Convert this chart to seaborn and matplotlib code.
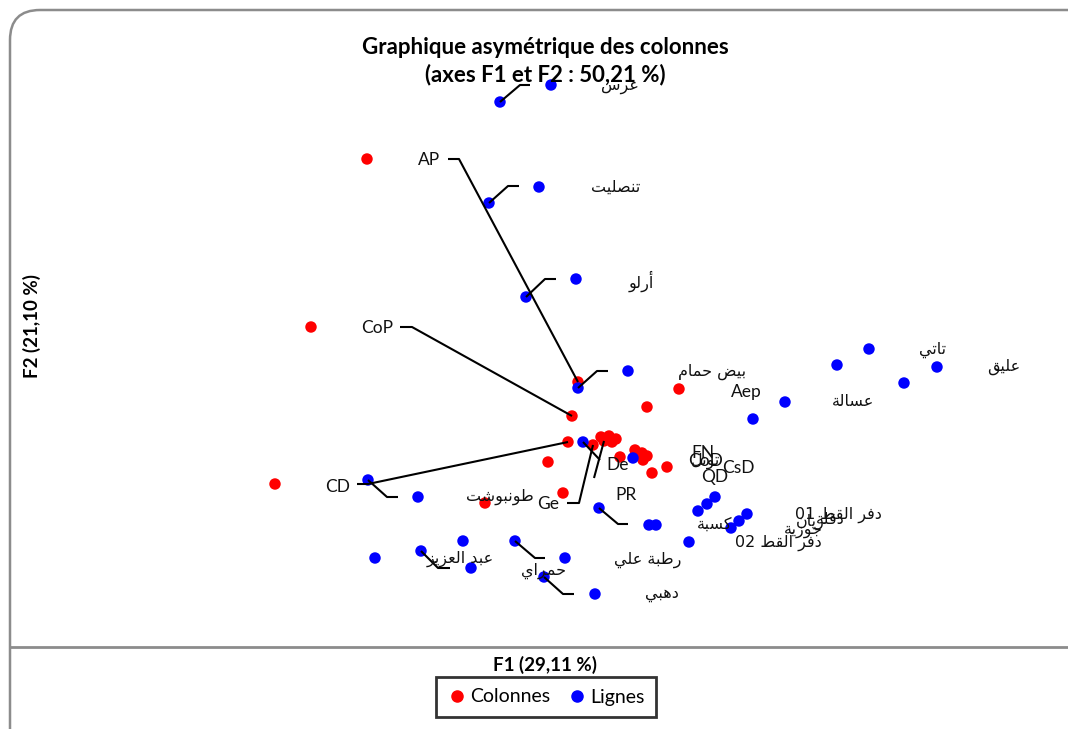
import numpy as np
import pandas as pd
import matplotlib
matplotlib.use("Agg")
import matplotlib.pyplot as plt
import seaborn as sns
from matplotlib.patches import FancyBboxPatch
from matplotlib.lines import Line2D

# ---------------- data ----------------
series_names = ["Colonnes", "Lignes"]

col_f1 = [-0.932, -1.156, -0.088, 0.316, 0.188, -0.112, -0.128, 0.004, 0.036, 0.064,
          0.016, 0.048, -0.028, 0.080, 0.140, 0.168, 0.188, 0.172, 0.148, 0.208,
          0.268, -0.208, -0.148, -1.300, -0.460]
col_f2 = [1.144, 0.472, 0.252, 0.224, 0.152, 0.116, 0.012, 0.032, 0.036, 0.024,
          0.016, 0.012, 0.000, -0.048, -0.020, -0.032, -0.044, -0.060, -0.040, -0.112,
          -0.088, -0.068, -0.192, -0.156, -0.232]

row_f1 = [-0.196, -0.400, -0.244, -0.444, -0.096, -0.296, 0.112, -0.088, 1.076, 0.948,
          1.348, 1.216, 0.740, 0.612, -0.068, 0.132, -0.928, -0.728, -0.004, 0.196,
          0.224, 0.392, 0.428, 0.460, 0.588, 0.556, 0.524, 0.356, -0.548, -0.716,
          -0.900, -0.516, -0.340, -0.140, -0.224, -0.020]
row_f2 = [1.440, 1.372, 1.032, 0.968, 0.664, 0.592, 0.296, 0.228, 0.384, 0.320,
          0.312, 0.248, 0.172, 0.104, 0.012, -0.052, -0.140, -0.208, -0.252, -0.320,
          -0.320, -0.264, -0.236, -0.208, -0.276, -0.304, -0.332, -0.388, -0.384, -0.424,
          -0.452, -0.492, -0.384, -0.452, -0.528, -0.596]

col_labels = ["AP", "CoP", "CD", "Ge", "De", "PR", "Aep", "FN", "CoD", "CsD", "QD"]
row_labels = ["عرس", "تنصليت", "أرلو", "بيض حمام", "عسالة", "تاتي", "عليق",
              "طونبوشت", "عبد العزيز", "حمراي", "رطبة علي", "دهبي", "كسبة",
              "دفر القط 01", "دقلة", "زيان", "جوزية", "دفر القط 02", "تونل"]

title_text = "Graphique asymétrique des colonnes\n(axes F1 et F2 : 50,21 %)"
x_title = "F1 (29,11 %)"
y_title = "F2 (21,10 %)"

# ---------------- layout (label placement, leader lines) ----------------
col_label_pos = [(-0.684, 1.140), (-0.892, 0.468), (-1.048, -0.168), (-0.208, -0.236),
                 (0.072, -0.080), (0.104, -0.200), (0.584, 0.212), (0.412, -0.032),
                 (0.424, -0.064), (0.552, -0.092), (0.460, -0.128)]
row_label_pos = [(0.080, 1.436), (0.064, 1.032), (0.164, 0.656), (0.448, 0.292),
                 (1.012, 0.172), (1.332, 0.380), (1.616, 0.312), (-0.400, -0.208),
                 (-0.560, -0.456), (-0.224, -0.504), (0.192, -0.460), (0.248, -0.600),
                 (0.460, -0.316), (0.952, -0.280), (0.920, -0.296), (0.840, -0.308),
                 (0.812, -0.340), (0.712, -0.392), (0.424, -0.064)]
# (series, point index, following vertices of the leader line)
leaders = [
    ("Lignes", 1, [(-0.320, 1.440), (-0.280, 1.440)]),
    ("Lignes", 3, [(-0.368, 1.036), (-0.324, 1.036)]),
    ("Lignes", 5, [(-0.220, 0.664), (-0.176, 0.664)]),
    ("Lignes", 7, [(-0.012, 0.296), (0.032, 0.296)]),
    ("Colonnes", 2, [(-0.564, 1.144), (-0.608, 1.144)]),
    ("Colonnes", 5, [(-0.752, 0.472), (-0.800, 0.472)]),
    ("Colonnes", 6, [(-0.928, -0.156), (-0.972, -0.156)]),
    ("Lignes", 16, [(-0.852, -0.208), (-0.808, -0.208)]),
    ("Lignes", 14, [(0.000, -0.060)]),
    ("Colonnes", 12, [(-0.084, -0.232), (-0.132, -0.232)]),
    ("Colonnes", 10, [(-0.024, -0.132)]),
    ("Lignes", 18, [(0.072, -0.316), (0.112, -0.316)]),
    ("Lignes", 29, [(-0.648, -0.492), (-0.600, -0.492)]),
    ("Lignes", 32, [(-0.260, -0.452), (-0.220, -0.452)]),
    ("Lignes", 34, [(-0.148, -0.596), (-0.104, -0.596)]),
]

# ---------------- minimal Arabic shaping (presentation forms, visual order) ----------------
FORMS = {  # isolated, final, initial, medial
    "ا": ("\uFE8D", "\uFE8E", None, None), "أ": ("\uFE83", "\uFE84", None, None),
    "ب": ("\uFE8F", "\uFE90", "\uFE91", "\uFE92"), "ة": ("\uFE93", "\uFE94", None, None),
    "ت": ("\uFE95", "\uFE96", "\uFE97", "\uFE98"), "ج": ("\uFE9D", "\uFE9E", "\uFE9F", "\uFEA0"),
    "ح": ("\uFEA1", "\uFEA2", "\uFEA3", "\uFEA4"), "د": ("\uFEA9", "\uFEAA", None, None),
    "ر": ("\uFEAD", "\uFEAE", None, None), "ز": ("\uFEAF", "\uFEB0", None, None),
    "س": ("\uFEB1", "\uFEB2", "\uFEB3", "\uFEB4"), "ش": ("\uFEB5", "\uFEB6", "\uFEB7", "\uFEB8"),
    "ص": ("\uFEB9", "\uFEBA", "\uFEBB", "\uFEBC"), "ض": ("\uFEBD", "\uFEBE", "\uFEBF", "\uFEC0"),
    "ط": ("\uFEC1", "\uFEC2", "\uFEC3", "\uFEC4"), "ع": ("\uFEC9", "\uFECA", "\uFECB", "\uFECC"),
    "ف": ("\uFED1", "\uFED2", "\uFED3", "\uFED4"), "ق": ("\uFED5", "\uFED6", "\uFED7", "\uFED8"),
    "ك": ("\uFED9", "\uFEDA", "\uFEDB", "\uFEDC"), "ل": ("\uFEDD", "\uFEDE", "\uFEDF", "\uFEE0"),
    "م": ("\uFEE1", "\uFEE2", "\uFEE3", "\uFEE4"), "ن": ("\uFEE5", "\uFEE6", "\uFEE7", "\uFEE8"),
    "ه": ("\uFEE9", "\uFEEA", "\uFEEB", "\uFEEC"), "و": ("\uFEED", "\uFEEE", None, None),
    "ي": ("\uFEF1", "\uFEF2", "\uFEF3", "\uFEF4"),
}


def shape_word(w):
    out = []
    n = len(w)
    for i, ch in enumerate(w):
        f = FORMS.get(ch)
        if f is None:
            out.append(ch)
            continue
        prev_joins = i > 0 and w[i - 1] in FORMS and FORMS[w[i - 1]][2] is not None
        next_joins = f[2] is not None and i < n - 1 and w[i + 1] in FORMS
        if prev_joins and next_joins:
            out.append(f[3])
        elif prev_joins:
            out.append(f[1])
        elif next_joins:
            out.append(f[2])
        else:
            out.append(f[0])
    return "".join(out[::-1])


def arabic(s):
    toks = s.split(" ")
    vis = [t if not any(c in FORMS for c in t) else shape_word(t) for t in toks]
    return " ".join(vis[::-1])


# ---------------- figure ----------------
sns.set_style("white")
plt.rcParams["font.family"] = ["Lato", "DejaVu Sans"]
plt.rcParams["text.color"] = "black"

W, H = 1068, 729
fig = plt.figure(figsize=(W / 100, H / 100), dpi=100)
ax = fig.add_axes([10 / W, (H - 647) / H, (W - 10) / W, (647 - 10) / H])

df = pd.DataFrame({
    "F1": col_f1 + row_f1,
    "F2": col_f2 + row_f2,
    "Série": [series_names[0]] * len(col_f1) + [series_names[1]] * len(row_f1),
})
sns.scatterplot(data=df, x="F1", y="F2", hue="Série",
                palette={"Colonnes": "#ff0000", "Lignes": "#0000ff"},
                s=68, linewidth=0, ax=ax, legend=False, zorder=3)

ax.set_xlim(-2.36, 1.872)
ax.set_ylim(-0.808, 1.74)
ax.set_xticks([])
ax.set_yticks([])
ax.set_xlabel("")
ax.set_ylabel("")
for side in ["top", "right", "left"]:
    ax.spines[side].set_visible(False)
ax.spines["bottom"].set_color("#8c8c8c")
ax.spines["bottom"].set_linewidth(2)
ax.patch.set_alpha(0)

# leader lines
pts = {"Colonnes": (col_f1, col_f2), "Lignes": (row_f1, row_f2)}
for ser, idx, verts in leaders:
    xs = [pts[ser][0][idx]] + [v[0] for v in verts]
    ys = [pts[ser][1][idx]] + [v[1] for v in verts]
    ax.plot(xs, ys, color="black", lw=1.5, zorder=4, solid_capstyle="butt")

for lab, (x, y) in zip(col_labels, col_label_pos):
    ax.text(x, y, lab, ha="center", va="center", fontsize=12.5, color="#111111", zorder=5)
for lab, (x, y) in zip(row_labels, row_label_pos):
    ax.text(x, y, arabic(lab), ha="center", va="center", fontsize=11.5,
            family=["DejaVu Sans"], color="#111111", zorder=5)

# titles
fig.text(545 / W, 1 - 61 / H, title_text, ha="center", va="center", fontsize=16,
         fontweight="bold", linespacing=1.3, color="black")
fig.text(545 / W, 1 - 665 / H, x_title, ha="center", va="center", fontsize=13.5,
         fontweight="bold", color="black")
fig.text(32 / W, 1 - 326 / H, y_title, ha="center", va="center", fontsize=13.5,
         fontweight="bold", rotation=90, color="black")

# legend
handles = [Line2D([], [], marker="o", ls="", color=c, markersize=8)
           for c in ["#ff0000", "#0000ff"]]
leg = fig.legend(handles, series_names, loc="center", bbox_to_anchor=(546 / W, 1 - 697 / H),
                 ncol=2, frameon=True, fontsize=14, handletextpad=0.15, columnspacing=0.9,
                 handlelength=1.0, borderpad=0.6, fancybox=False, borderaxespad=0)
leg.get_frame().set_edgecolor("black")
leg.get_frame().set_linewidth(2)
for t in leg.get_texts():
    t.set_color("black")

# outer rounded frame
frame = FancyBboxPatch((0.10, -0.3), 10.9, 7.49, boxstyle="round,pad=0,rounding_size=0.3",
                       transform=fig.dpi_scale_trans, fill=False, edgecolor="#8c8c8c",
                       linewidth=1.8, zorder=0)
fig.add_artist(frame)

fig.savefig("out.png", dpi=100)
